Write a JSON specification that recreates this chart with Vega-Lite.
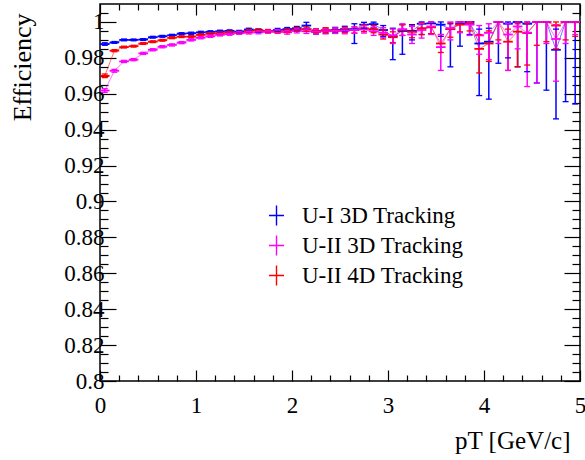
{
  "$schema": "https://vega.github.io/schema/vega-lite/v6.json",
  "autosize": "none",
  "width": 480,
  "height": 377,
  "padding": {"left": 100, "top": 4, "right": 5, "bottom": 79},
  "background": "white",
  "config": {
    "view": {"stroke": "black", "strokeWidth": 1.5},
    "font": "Liberation Serif",
    "axis": {"labelFont": "Liberation Serif", "titleFont": "Liberation Serif", "labelColor": "black", "titleColor": "black", "tickColor": "black", "domain": false, "grid": false, "labelFontSize": 23, "titleFontSize": 25, "titleFontWeight": "normal", "tickWidth": 1.2},
    "legend": {"title": null, "orient": "none", "legendX": 165, "legendY": 200, "padding": 0,
      "symbolType": "M-0.75,0H0.75M0,-1V1", "symbolSize": 400, "symbolStrokeWidth": 1.4, "symbolFillColor": "transparent", "symbolOpacity": 1,
      "labelFont": "Liberation Serif", "labelFontSize": 23, "labelColor": "black", "labelOffset": 14, "rowPadding": 3, "labelLimit": 300}
  },
  "data": {"values": [
    {"s":"U-I 3D Tracking","x":0.05,"y":0.9877,"lo":0.9870,"hi":0.9884},
    {"s":"U-I 3D Tracking","x":0.15,"y":0.9886,"lo":0.9881,"hi":0.9891},
    {"s":"U-I 3D Tracking","x":0.25,"y":0.9900,"lo":0.9895,"hi":0.9905},
    {"s":"U-I 3D Tracking","x":0.35,"y":0.9900,"lo":0.9895,"hi":0.9905},
    {"s":"U-I 3D Tracking","x":0.45,"y":0.9902,"lo":0.9897,"hi":0.9907},
    {"s":"U-I 3D Tracking","x":0.55,"y":0.9915,"lo":0.9910,"hi":0.9920},
    {"s":"U-I 3D Tracking","x":0.65,"y":0.9920,"lo":0.9915,"hi":0.9925},
    {"s":"U-I 3D Tracking","x":0.75,"y":0.9926,"lo":0.9921,"hi":0.9931},
    {"s":"U-I 3D Tracking","x":0.85,"y":0.9935,"lo":0.9930,"hi":0.9940},
    {"s":"U-I 3D Tracking","x":0.95,"y":0.9937,"lo":0.9931,"hi":0.9943},
    {"s":"U-I 3D Tracking","x":1.05,"y":0.9942,"lo":0.9936,"hi":0.9948},
    {"s":"U-I 3D Tracking","x":1.15,"y":0.9945,"lo":0.9939,"hi":0.9951},
    {"s":"U-I 3D Tracking","x":1.25,"y":0.9948,"lo":0.9942,"hi":0.9954},
    {"s":"U-I 3D Tracking","x":1.35,"y":0.9950,"lo":0.9944,"hi":0.9956},
    {"s":"U-I 3D Tracking","x":1.45,"y":0.9946,"lo":0.9939,"hi":0.9953},
    {"s":"U-I 3D Tracking","x":1.55,"y":0.9958,"lo":0.9951,"hi":0.9965},
    {"s":"U-I 3D Tracking","x":1.65,"y":0.9952,"lo":0.9944,"hi":0.9960},
    {"s":"U-I 3D Tracking","x":1.75,"y":0.9948,"lo":0.9940,"hi":0.9956},
    {"s":"U-I 3D Tracking","x":1.85,"y":0.9955,"lo":0.9946,"hi":0.9964},
    {"s":"U-I 3D Tracking","x":1.95,"y":0.9960,"lo":0.9951,"hi":0.9969},
    {"s":"U-I 3D Tracking","x":2.05,"y":0.9965,"lo":0.9955,"hi":0.9975},
    {"s":"U-I 3D Tracking","x":2.15,"y":0.9980,"lo":0.9960,"hi":0.9998},
    {"s":"U-I 3D Tracking","x":2.25,"y":0.9945,"lo":0.9932,"hi":0.9958},
    {"s":"U-I 3D Tracking","x":2.35,"y":0.9950,"lo":0.9936,"hi":0.9964},
    {"s":"U-I 3D Tracking","x":2.45,"y":0.9955,"lo":0.9940,"hi":0.9970},
    {"s":"U-I 3D Tracking","x":2.55,"y":0.9960,"lo":0.9944,"hi":0.9976},
    {"s":"U-I 3D Tracking","x":2.65,"y":0.9960,"lo":0.9880,"hi":0.9990},
    {"s":"U-I 3D Tracking","x":2.75,"y":0.9985,"lo":0.9965,"hi":0.9998},
    {"s":"U-I 3D Tracking","x":2.85,"y":0.9988,"lo":0.9968,"hi":0.9999},
    {"s":"U-I 3D Tracking","x":2.95,"y":0.9955,"lo":0.9920,"hi":0.9980},
    {"s":"U-I 3D Tracking","x":3.05,"y":0.9920,"lo":0.9790,"hi":0.9965},
    {"s":"U-I 3D Tracking","x":3.15,"y":0.9950,"lo":0.9820,"hi":0.9985},
    {"s":"U-I 3D Tracking","x":3.25,"y":0.9950,"lo":0.9900,"hi":0.9985},
    {"s":"U-I 3D Tracking","x":3.35,"y":0.9990,"lo":0.9930,"hi":1.0},
    {"s":"U-I 3D Tracking","x":3.45,"y":0.9992,"lo":0.9935,"hi":1.0},
    {"s":"U-I 3D Tracking","x":3.55,"y":0.9985,"lo":0.9920,"hi":1.0},
    {"s":"U-I 3D Tracking","x":3.65,"y":0.9960,"lo":0.9750,"hi":0.9990},
    {"s":"U-I 3D Tracking","x":3.75,"y":0.9990,"lo":0.9865,"hi":1.0},
    {"s":"U-I 3D Tracking","x":3.85,"y":1.0,"lo":0.9930,"hi":1.0},
    {"s":"U-I 3D Tracking","x":3.95,"y":0.9880,"lo":0.9590,"hi":0.9960},
    {"s":"U-I 3D Tracking","x":4.05,"y":0.9890,"lo":0.9570,"hi":0.9965},
    {"s":"U-I 3D Tracking","x":4.15,"y":1.0,"lo":0.9770,"hi":1.0},
    {"s":"U-I 3D Tracking","x":4.25,"y":0.9990,"lo":0.9800,"hi":1.0},
    {"s":"U-I 3D Tracking","x":4.35,"y":1.0,"lo":0.9750,"hi":1.0},
    {"s":"U-I 3D Tracking","x":4.45,"y":0.9990,"lo":0.9723,"hi":1.0},
    {"s":"U-I 3D Tracking","x":4.55,"y":1.0,"lo":0.9660,"hi":1.0},
    {"s":"U-I 3D Tracking","x":4.65,"y":1.0,"lo":0.9620,"hi":1.0},
    {"s":"U-I 3D Tracking","x":4.75,"y":0.9845,"lo":0.9460,"hi":0.9960},
    {"s":"U-I 3D Tracking","x":4.85,"y":1.0,"lo":0.9556,"hi":1.0},
    {"s":"U-I 3D Tracking","x":4.95,"y":1.0,"lo":0.9543,"hi":1.0},
    {"s":"U-II 4D Tracking","x":0.05,"y":0.9700,"lo":0.9690,"hi":0.9710},
    {"s":"U-II 4D Tracking","x":0.15,"y":0.9840,"lo":0.9834,"hi":0.9846},
    {"s":"U-II 4D Tracking","x":0.25,"y":0.9860,"lo":0.9855,"hi":0.9865},
    {"s":"U-II 4D Tracking","x":0.35,"y":0.9865,"lo":0.9860,"hi":0.9870},
    {"s":"U-II 4D Tracking","x":0.45,"y":0.9880,"lo":0.9875,"hi":0.9885},
    {"s":"U-II 4D Tracking","x":0.55,"y":0.9890,"lo":0.9885,"hi":0.9895},
    {"s":"U-II 4D Tracking","x":0.65,"y":0.9898,"lo":0.9893,"hi":0.9903},
    {"s":"U-II 4D Tracking","x":0.75,"y":0.9912,"lo":0.9907,"hi":0.9917},
    {"s":"U-II 4D Tracking","x":0.85,"y":0.9918,"lo":0.9913,"hi":0.9923},
    {"s":"U-II 4D Tracking","x":0.95,"y":0.9918,"lo":0.9912,"hi":0.9924},
    {"s":"U-II 4D Tracking","x":1.05,"y":0.9928,"lo":0.9922,"hi":0.9934},
    {"s":"U-II 4D Tracking","x":1.15,"y":0.9935,"lo":0.9929,"hi":0.9941},
    {"s":"U-II 4D Tracking","x":1.25,"y":0.9938,"lo":0.9932,"hi":0.9944},
    {"s":"U-II 4D Tracking","x":1.35,"y":0.9942,"lo":0.9936,"hi":0.9948},
    {"s":"U-II 4D Tracking","x":1.45,"y":0.9940,"lo":0.9933,"hi":0.9947},
    {"s":"U-II 4D Tracking","x":1.55,"y":0.9950,"lo":0.9943,"hi":0.9957},
    {"s":"U-II 4D Tracking","x":1.65,"y":0.9955,"lo":0.9948,"hi":0.9962},
    {"s":"U-II 4D Tracking","x":1.75,"y":0.9950,"lo":0.9942,"hi":0.9958},
    {"s":"U-II 4D Tracking","x":1.85,"y":0.9945,"lo":0.9937,"hi":0.9953},
    {"s":"U-II 4D Tracking","x":1.95,"y":0.9952,"lo":0.9943,"hi":0.9961},
    {"s":"U-II 4D Tracking","x":2.05,"y":0.9958,"lo":0.9948,"hi":0.9968},
    {"s":"U-II 4D Tracking","x":2.15,"y":0.9960,"lo":0.9949,"hi":0.9971},
    {"s":"U-II 4D Tracking","x":2.25,"y":0.9950,"lo":0.9938,"hi":0.9962},
    {"s":"U-II 4D Tracking","x":2.35,"y":0.9955,"lo":0.9942,"hi":0.9968},
    {"s":"U-II 4D Tracking","x":2.45,"y":0.9950,"lo":0.9936,"hi":0.9964},
    {"s":"U-II 4D Tracking","x":2.55,"y":0.9955,"lo":0.9940,"hi":0.9970},
    {"s":"U-II 4D Tracking","x":2.65,"y":0.9955,"lo":0.9938,"hi":0.9972},
    {"s":"U-II 4D Tracking","x":2.75,"y":0.9965,"lo":0.9946,"hi":0.9984},
    {"s":"U-II 4D Tracking","x":2.85,"y":0.9960,"lo":0.9940,"hi":0.9980},
    {"s":"U-II 4D Tracking","x":2.95,"y":0.9930,"lo":0.9905,"hi":0.9955},
    {"s":"U-II 4D Tracking","x":3.05,"y":0.9915,"lo":0.9885,"hi":0.9945},
    {"s":"U-II 4D Tracking","x":3.15,"y":0.9955,"lo":0.9925,"hi":0.9985},
    {"s":"U-II 4D Tracking","x":3.25,"y":0.9945,"lo":0.9912,"hi":0.9978},
    {"s":"U-II 4D Tracking","x":3.35,"y":0.9965,"lo":0.9930,"hi":0.9995},
    {"s":"U-II 4D Tracking","x":3.45,"y":0.9970,"lo":0.9935,"hi":0.9998},
    {"s":"U-II 4D Tracking","x":3.55,"y":0.9880,"lo":0.9830,"hi":0.9930},
    {"s":"U-II 4D Tracking","x":3.65,"y":0.9960,"lo":0.9915,"hi":0.9995},
    {"s":"U-II 4D Tracking","x":3.75,"y":0.9985,"lo":0.9945,"hi":1.0},
    {"s":"U-II 4D Tracking","x":3.85,"y":0.9990,"lo":0.9950,"hi":1.0},
    {"s":"U-II 4D Tracking","x":3.95,"y":0.9850,"lo":0.9716,"hi":0.9930},
    {"s":"U-II 4D Tracking","x":4.05,"y":0.9880,"lo":0.9780,"hi":0.9950},
    {"s":"U-II 4D Tracking","x":4.15,"y":1.0,"lo":0.9900,"hi":1.0},
    {"s":"U-II 4D Tracking","x":4.25,"y":0.9890,"lo":0.9730,"hi":0.9960},
    {"s":"U-II 4D Tracking","x":4.35,"y":0.9946,"lo":0.9750,"hi":0.9990},
    {"s":"U-II 4D Tracking","x":4.45,"y":0.9938,"lo":0.9760,"hi":0.9990},
    {"s":"U-II 4D Tracking","x":4.55,"y":1.0,"lo":0.9870,"hi":1.0},
    {"s":"U-II 4D Tracking","x":4.65,"y":1.0,"lo":0.9890,"hi":1.0},
    {"s":"U-II 4D Tracking","x":4.75,"y":0.9980,"lo":0.9850,"hi":1.0},
    {"s":"U-II 4D Tracking","x":4.85,"y":1.0,"lo":0.9900,"hi":1.0},
    {"s":"U-II 4D Tracking","x":4.95,"y":1.0,"lo":0.9920,"hi":1.0},
    {"s":"U-II 3D Tracking","x":0.05,"y":0.9618,"lo":0.9608,"hi":0.9628},
    {"s":"U-II 3D Tracking","x":0.15,"y":0.9728,"lo":0.9720,"hi":0.9736},
    {"s":"U-II 3D Tracking","x":0.25,"y":0.9780,"lo":0.9774,"hi":0.9786},
    {"s":"U-II 3D Tracking","x":0.35,"y":0.9790,"lo":0.9784,"hi":0.9796},
    {"s":"U-II 3D Tracking","x":0.45,"y":0.9825,"lo":0.9819,"hi":0.9831},
    {"s":"U-II 3D Tracking","x":0.55,"y":0.9845,"lo":0.9839,"hi":0.9851},
    {"s":"U-II 3D Tracking","x":0.65,"y":0.9862,"lo":0.9856,"hi":0.9868},
    {"s":"U-II 3D Tracking","x":0.75,"y":0.9872,"lo":0.9866,"hi":0.9878},
    {"s":"U-II 3D Tracking","x":0.85,"y":0.9885,"lo":0.9879,"hi":0.9891},
    {"s":"U-II 3D Tracking","x":0.95,"y":0.9900,"lo":0.9894,"hi":0.9906},
    {"s":"U-II 3D Tracking","x":1.05,"y":0.9912,"lo":0.9906,"hi":0.9918},
    {"s":"U-II 3D Tracking","x":1.15,"y":0.9920,"lo":0.9914,"hi":0.9926},
    {"s":"U-II 3D Tracking","x":1.25,"y":0.9928,"lo":0.9922,"hi":0.9934},
    {"s":"U-II 3D Tracking","x":1.35,"y":0.9932,"lo":0.9926,"hi":0.9938},
    {"s":"U-II 3D Tracking","x":1.45,"y":0.9938,"lo":0.9931,"hi":0.9945},
    {"s":"U-II 3D Tracking","x":1.55,"y":0.9940,"lo":0.9933,"hi":0.9947},
    {"s":"U-II 3D Tracking","x":1.65,"y":0.9942,"lo":0.9934,"hi":0.9950},
    {"s":"U-II 3D Tracking","x":1.75,"y":0.9945,"lo":0.9937,"hi":0.9953},
    {"s":"U-II 3D Tracking","x":1.85,"y":0.9948,"lo":0.9939,"hi":0.9957},
    {"s":"U-II 3D Tracking","x":1.95,"y":0.9942,"lo":0.9932,"hi":0.9952},
    {"s":"U-II 3D Tracking","x":2.05,"y":0.9950,"lo":0.9939,"hi":0.9961},
    {"s":"U-II 3D Tracking","x":2.15,"y":0.9948,"lo":0.9936,"hi":0.9960},
    {"s":"U-II 3D Tracking","x":2.25,"y":0.9945,"lo":0.9932,"hi":0.9958},
    {"s":"U-II 3D Tracking","x":2.35,"y":0.9948,"lo":0.9934,"hi":0.9962},
    {"s":"U-II 3D Tracking","x":2.45,"y":0.9952,"lo":0.9937,"hi":0.9967},
    {"s":"U-II 3D Tracking","x":2.55,"y":0.9950,"lo":0.9934,"hi":0.9966},
    {"s":"U-II 3D Tracking","x":2.65,"y":0.9955,"lo":0.9937,"hi":0.9973},
    {"s":"U-II 3D Tracking","x":2.75,"y":0.9958,"lo":0.9938,"hi":0.9978},
    {"s":"U-II 3D Tracking","x":2.85,"y":0.9948,"lo":0.9925,"hi":0.9971},
    {"s":"U-II 3D Tracking","x":2.95,"y":0.9940,"lo":0.9912,"hi":0.9968},
    {"s":"U-II 3D Tracking","x":3.05,"y":0.9925,"lo":0.9880,"hi":0.9960},
    {"s":"U-II 3D Tracking","x":3.15,"y":0.9960,"lo":0.9925,"hi":0.9990},
    {"s":"U-II 3D Tracking","x":3.25,"y":0.9930,"lo":0.9880,"hi":0.9975},
    {"s":"U-II 3D Tracking","x":3.35,"y":0.9955,"lo":0.9910,"hi":0.9990},
    {"s":"U-II 3D Tracking","x":3.45,"y":0.9975,"lo":0.9930,"hi":1.0},
    {"s":"U-II 3D Tracking","x":3.55,"y":0.9860,"lo":0.9730,"hi":0.9930},
    {"s":"U-II 3D Tracking","x":3.65,"y":0.9965,"lo":0.9900,"hi":1.0},
    {"s":"U-II 3D Tracking","x":3.75,"y":1.0,"lo":0.9940,"hi":1.0},
    {"s":"U-II 3D Tracking","x":3.85,"y":0.9985,"lo":0.9925,"hi":1.0},
    {"s":"U-II 3D Tracking","x":3.95,"y":0.9925,"lo":0.9820,"hi":0.9980},
    {"s":"U-II 3D Tracking","x":4.05,"y":0.9940,"lo":0.9790,"hi":0.9990},
    {"s":"U-II 3D Tracking","x":4.15,"y":1.0,"lo":0.9880,"hi":1.0},
    {"s":"U-II 3D Tracking","x":4.25,"y":0.9930,"lo":0.9730,"hi":0.9990},
    {"s":"U-II 3D Tracking","x":4.35,"y":0.9975,"lo":0.9850,"hi":1.0},
    {"s":"U-II 3D Tracking","x":4.45,"y":0.9940,"lo":0.9640,"hi":1.0},
    {"s":"U-II 3D Tracking","x":4.55,"y":1.0,"lo":0.9660,"hi":1.0},
    {"s":"U-II 3D Tracking","x":4.65,"y":1.0,"lo":0.9880,"hi":1.0},
    {"s":"U-II 3D Tracking","x":4.75,"y":0.9905,"lo":0.9670,"hi":0.9985},
    {"s":"U-II 3D Tracking","x":4.85,"y":1.0,"lo":0.9880,"hi":1.0},
    {"s":"U-II 3D Tracking","x":4.95,"y":1.0,"lo":0.9930,"hi":1.0}
  ]},
  "resolve": {"axis": {"x": "independent", "y": "independent"}},
  "layer": [
    {
      "mark": {"type": "line", "strokeWidth": 1, "opacity": 0.55},
      "encoding": {
        "x": {"field": "x", "type": "quantitative", "scale": {"domain": [0, 5], "nice": false, "zero": false},
          "axis": {"orient": "top", "values": [0,0.2,0.4,0.6,0.8,1,1.2,1.4,1.6,1.8,2,2.2,2.4,2.6,2.8,3,3.2,3.4,3.6,3.8,4,4.2,4.4,4.6,4.8,5], "labels": false, "title": null,
            "tickSize": {"condition": {"test": "abs(datum.value-round(datum.value))<1e-6", "value": -11}, "value": -6}}},
        "y": {"field": "y", "type": "quantitative", "scale": {"domain": [0.8, 1.01], "nice": false, "zero": false},
          "axis": {"orient": "right", "values": [0.8,0.805,0.81,0.815,0.82,0.825,0.83,0.835,0.84,0.845,0.85,0.855,0.86,0.865,0.87,0.875,0.88,0.885,0.89,0.895,0.9,0.905,0.91,0.915,0.92,0.925,0.93,0.935,0.94,0.945,0.95,0.955,0.96,0.965,0.97,0.975,0.98,0.985,0.99,0.995,1,1.005], "labels": false, "title": null,
            "tickSize": {"condition": {"test": "abs(datum.value*50-round(datum.value*50))<1e-6", "value": -16}, "value": -8}}},
        "color": {"field": "s", "type": "nominal",
          "scale": {"domain": ["U-I 3D Tracking", "U-II 3D Tracking", "U-II 4D Tracking"], "range": ["#0000ff", "#ff00ff", "#ff0000"]}}
      }
    },
    {
      "mark": {"type": "rule", "strokeWidth": 1.5},
      "encoding": {
        "x": {"field": "x", "type": "quantitative",
          "axis": {"orient": "bottom", "values": [0,0.2,0.4,0.6,0.8,1,1.2,1.4,1.6,1.8,2,2.2,2.4,2.6,2.8,3,3.2,3.4,3.6,3.8,4,4.2,4.4,4.6,4.8,5], "format": "~g",
            "labelExpr": "abs(datum.value-round(datum.value))<1e-6 ? datum.label : ''",
            "labelPadding": 24, "labelFlush": false,
            "tickSize": {"condition": {"test": "abs(datum.value-round(datum.value))<1e-6", "value": -11}, "value": -6},
            "title": "pT [GeV/c]", "titleAnchor": "end", "titleAlign": "right", "titleX": 470, "titleY": 59, "titleBaseline": "middle"}},
        "y": {"field": "lo", "type": "quantitative",
          "axis": {"orient": "left", "values": [0.8,0.805,0.81,0.815,0.82,0.825,0.83,0.835,0.84,0.845,0.85,0.855,0.86,0.865,0.87,0.875,0.88,0.885,0.89,0.895,0.9,0.905,0.91,0.915,0.92,0.925,0.93,0.935,0.94,0.945,0.95,0.955,0.96,0.965,0.97,0.975,0.98,0.985,0.99,0.995,1,1.005], "format": "~g",
            "labelExpr": "abs(datum.value*50-round(datum.value*50))<1e-6 ? datum.label : ''",
            "labelPadding": 12, "labelFlush": false,
            "tickSize": {"condition": {"test": "abs(datum.value*50-round(datum.value*50))<1e-6", "value": -16}, "value": -8},
            "title": "Efficiency", "titleFontSize": 26, "titleAngle": -90, "titleAlign": "right", "titleBaseline": "middle", "titleX": -78, "titleY": 9}},
        "y2": {"field": "hi"},
        "color": {"field": "s", "type": "nominal"}
      }
    },
    {
      "mark": {"type": "tick", "orient": "horizontal", "size": 9.6, "thickness": 1.8, "opacity": 1},
      "encoding": {
        "x": {"field": "x", "type": "quantitative", "axis": null},
        "y": {"field": "y", "type": "quantitative", "axis": null},
        "color": {"field": "s", "type": "nominal"}
      }
    },
    {
      "mark": {"type": "tick", "orient": "horizontal", "size": 6, "thickness": 1.3, "opacity": 1},
      "encoding": {
        "x": {"field": "x", "type": "quantitative", "axis": null},
        "y": {"field": "lo", "type": "quantitative", "axis": null},
        "color": {"field": "s", "type": "nominal"}
      }
    },
    {
      "mark": {"type": "tick", "orient": "horizontal", "size": 6, "thickness": 1.3, "opacity": 1},
      "encoding": {
        "x": {"field": "x", "type": "quantitative", "axis": null},
        "y": {"field": "hi", "type": "quantitative", "axis": null},
        "color": {"field": "s", "type": "nominal"}
      }
    }
  ]
}
